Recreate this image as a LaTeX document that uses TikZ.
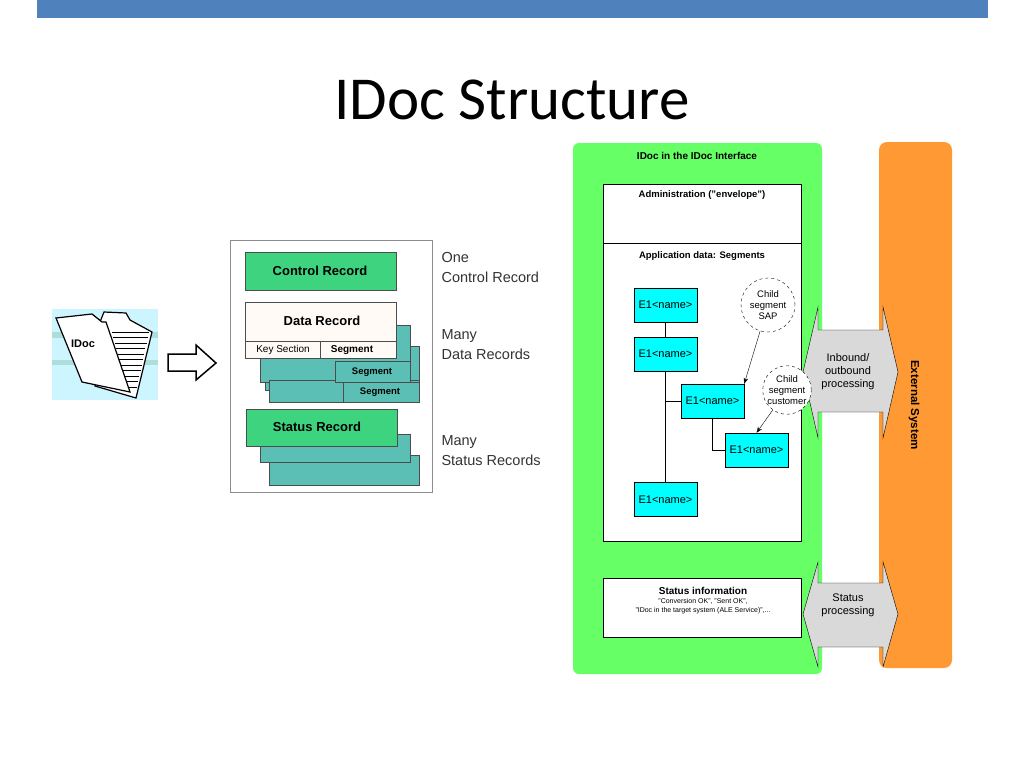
\documentclass[tikz,border=0pt]{standalone}
\usepackage{fontspec}
\setmainfont{Liberation Sans}
\newfontfamily\carfont{Carlito}
\usetikzlibrary{arrows.meta}
\definecolor{topblue}{HTML}{4F81BD}
\definecolor{recgreen}{HTML}{3ED47F}
\definecolor{teal}{HTML}{5BBFB5}
\definecolor{panelgreen}{HTML}{66FF66}
\definecolor{orng}{HTML}{FF9933}
\definecolor{cyanb}{HTML}{00FFFF}
\definecolor{lbl}{HTML}{333333}
\begin{document}
\begin{tikzpicture}[x=1pt,y=-1pt,
 rec/.style={draw=black!70,line width=1pt},
 e1/.style={draw=black,fill=cyanb,minimum width=63pt,minimum height=34pt,font=\fontsize{11}{12}\selectfont,inner sep=0pt},
 circ/.style={circle,draw=black,dashed,fill=white,minimum size=54pt,inner sep=0pt,align=center,font=\fontsize{9.5}{11}\selectfont},
 lab/.style={anchor=west,text=lbl,align=left,font=\fontsize{14.5}{20}\selectfont},
 wbox/.style={draw=black,fill=white},
 garrow/.style={draw=black,fill=black!15}]
\useasboundingbox (0,0) rectangle (1024,768);
\fill[white] (0,0) rectangle (1024,768);
\fill[topblue] (37,0) rectangle (988,18);
\node[font=\carfont\fontsize{61}{66}\selectfont] (title) at (512,100) {IDoc Structure};
% folder
\fill[blue!20!cyan!20!white] (52,309) rectangle (158,400);
\fill[teal!50!white] (52,332) rectangle (158,338);
\fill[teal!50!white] (52,360) rectangle (158,365);
\draw[line width=1.2pt,fill=white] (100,322) -- (104,312) -- (126,313) -- (130,320) -- (152,332) -- (136,398) -- (95,386) -- cycle;
\foreach \i in {0,...,10}{\draw (112+\i*1.4,332+\i*5.5) -- (149-\i*1.2,332+\i*5.5);}
\draw[line width=1.2pt,fill=white] (56,318) -- (92,314) -- (102,322) -- (106,322) -- (130,392) -- (82,382) -- cycle;
\node[font=\bfseries\fontsize{11}{12}\selectfont] (idoc) at (83,344) {IDoc};
\draw[line width=1.5pt,fill=white] (168,354) -- (196,354) -- (196,345) -- (216,363) -- (196,380) -- (196,371) -- (168,371) -- cycle;
% record box
\draw[black!45,line width=1pt] (230,240) rectangle (432,492);
\draw[rec,fill=teal] (265,346) rectangle (419,390);
\draw[rec,fill=teal] (260,325) rectangle (410,382);
\draw[rec,fill=teal] (269,380) rectangle (419,402);
\draw[rec,fill=teal] (335,361) rectangle (410,382);
\draw[rec,fill=teal] (343,382) rectangle (419,402);
\node[font=\bfseries\fontsize{9.5}{10}\selectfont] at (372,372) {Segment};
\node[font=\bfseries\fontsize{9.5}{10}\selectfont] at (380,392) {Segment};
\draw[rec,fill=recgreen] (245,252) rectangle (396,290);
\node[font=\bfseries\fontsize{13}{14}\selectfont] (cr) at (320,271) {Control Record};
\draw[rec,fill=orange!4] (245,302) rectangle (396,358);
\draw[rec] (245,341) -- (396,341) (320,341) -- (320,358);
\node[font=\bfseries\fontsize{13}{14}\selectfont] (dr) at (322,321) {Data Record};
\node[font=\fontsize{10}{12}\selectfont] at (283,350) {Key Section};
\node[font=\bfseries\fontsize{10}{12}\selectfont] at (352,350) {Segment};
\draw[rec,fill=teal] (269,455) rectangle (419,485);
\draw[rec,fill=teal] (260,434) rectangle (410,462);
\draw[rec,fill=recgreen] (246,409) rectangle (397,446);
\node[font=\bfseries\fontsize{13}{14}\selectfont] (sr) at (317,427) {Status Record};
\node[lab] at (438,268) {One\\Control Record};
\node[lab] at (438,345) {Many\\Data Records};
\node[lab] at (438,451) {Many\\Status Records};
% right panel
\fill[panelgreen,rounded corners=6pt] (573,143) rectangle (822,674);
\fill[orng,rounded corners=8pt] (879,142) rectangle (952,668);
\node[rotate=-90,font=\bfseries\fontsize{11.5}{12}\selectfont] (ext) at (914,405) {External System};
\node[font=\bfseries\fontsize{10}{11}\selectfont] (it) at (697,156) {IDoc in the IDoc Interface};
\draw[wbox] (603,184) rectangle (801,243);
\node[font=\bfseries\fontsize{9.5}{11}\selectfont] at (702,195) {Administration ("envelope")};
\draw[wbox] (603,243) rectangle (801,541);
\node[font=\bfseries\fontsize{9.5}{11}\selectfont] at (702,256) {Application data: Segments};
\node[e1] (a) at (665.5,305) {E1<name>};
\node[e1] (b) at (665.5,354) {E1<name>};
\node[e1] (c) at (712.5,401) {E1<name>};
\node[e1] (d) at (756.5,450) {E1<name>};
\node[e1] (e) at (665.5,499.5) {E1<name>};
\draw (a) -- (b) -- (e);
\draw (665.5,401) -- (c.west);
\draw (c.south) |- (d.west);
\draw[garrow] (803,372) -- (818,307) -- (818,330) -- (883,330) -- (883,307) -- (898,372) -- (883,438) -- (883,412) -- (818,412) -- (818,438) -- cycle;
\node[align=center,font=\fontsize{11}{13}\selectfont] (io) at (848,372) {Inbound/\\outbound\\processing};
\draw[garrow] (803,614) -- (818,562) -- (818,583) -- (883,583) -- (883,562) -- (898,614) -- (883,667) -- (883,647) -- (818,647) -- (818,667) -- cycle;
\node[align=center,font=\fontsize{11}{13}\selectfont] (sp) at (848,605) {Status\\processing};
\node[circ] (c1) at (768,305) {Child\\segment\\SAP};
\node[circ,minimum size=48pt] (c2) at (787,390) {Child\\segment\\customer};
\draw[-{Stealth[length=6pt]}] (c1) -- (c.north east);
\draw[-{Stealth[length=6pt]}] (c2) -- (d.north);
\draw[wbox] (603,578) rectangle (801,637);
\node[align=center,font=\fontsize{7}{9}\selectfont] (si) at (703,601) {{\bfseries\fontsize{10}{11}\selectfont Status information}\\"Conversion OK", "Sent OK",\\"IDoc in the target system (ALE Service)",...};
\end{tikzpicture}
\end{document}
